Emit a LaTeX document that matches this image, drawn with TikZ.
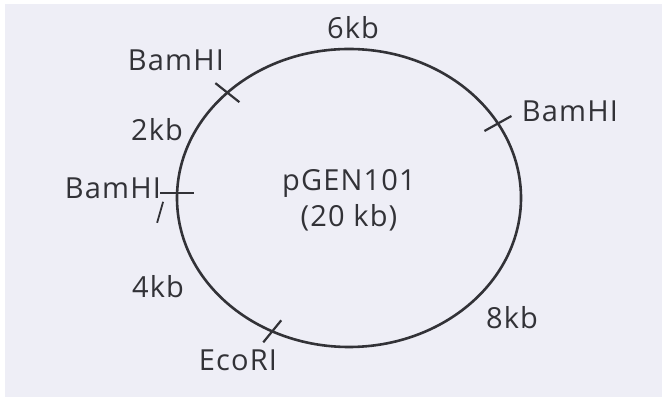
\documentclass[tikz,border=0pt]{standalone}
\usepackage{fontspec}
\setmainfont[LetterSpace=4]{Open Sans}
\usepackage{tikz}
\usetikzlibrary{calc}
\definecolor{paper}{RGB}{238,238,246}
\definecolor{ink}{RGB}{50,50,55}

\begin{document}
\begin{tikzpicture}[
      x=1pt, y=1pt,
      every node/.style={font=\fontsize{29}{36}\selectfont, text=ink, inner sep=0pt},
      lbl/.style={anchor=center},
      ring/.style={draw=ink, line width=2.6pt},
      cut/.style={draw=ink, line width=2.2pt}
  ]
    \useasboundingbox (0,0) rectangle (665,401);
    \fill[paper] (5,4) rectangle (662,397);

    % plasmid ring
    \coordinate (c) at (349,203);
    \draw[ring] (c) ellipse [x radius=172, y radius=149];
    \node[align=center] (name) at (349,201) {pGEN101\\(20 kb)};

    % restriction sites
    \coordinate (bam1) at ($(c)+(135:172 and 149)$);
    \coordinate (bam2) at ($(c)+(30:172 and 149)$);
    \coordinate (bam3) at ($(c)+(178:172 and 149)$);
    \coordinate (eco)  at ($(c)+(243.5:172 and 149)$);
    \draw[cut] (bam1) ++(-12,9.5) -- ++(24,-19);
    \draw[cut] (bam2) ++(-13.5,-7.5) -- ++(27,15);
    \draw[cut] (bam3) ++(-17,0) -- ++(34,0);
    \draw[cut] (eco) ++(-9,-11) -- ++(18,22);
    \draw[cut, line width=1.8pt] ($(bam3)+(-20,-30)$) -- ++(6,21);

    \node[lbl] (lb1) at (176,341) {BamHI};
    \node[lbl] (lb2) at (570,290) {BamHI};
    \node[lbl] (lb3) at (113,213) {BamHI};
    \node[lbl] (leco) at (238,41) {EcoRI};

    % distances
    \node[lbl] (k6) at (353,373) {6kb};
    \node[lbl] (k2) at (157,271) {2kb};
    \node[lbl] (k4) at (158,114) {4kb};
    \node[lbl] (k8) at (512,83) {8kb};
  \end{tikzpicture}
\end{document}
